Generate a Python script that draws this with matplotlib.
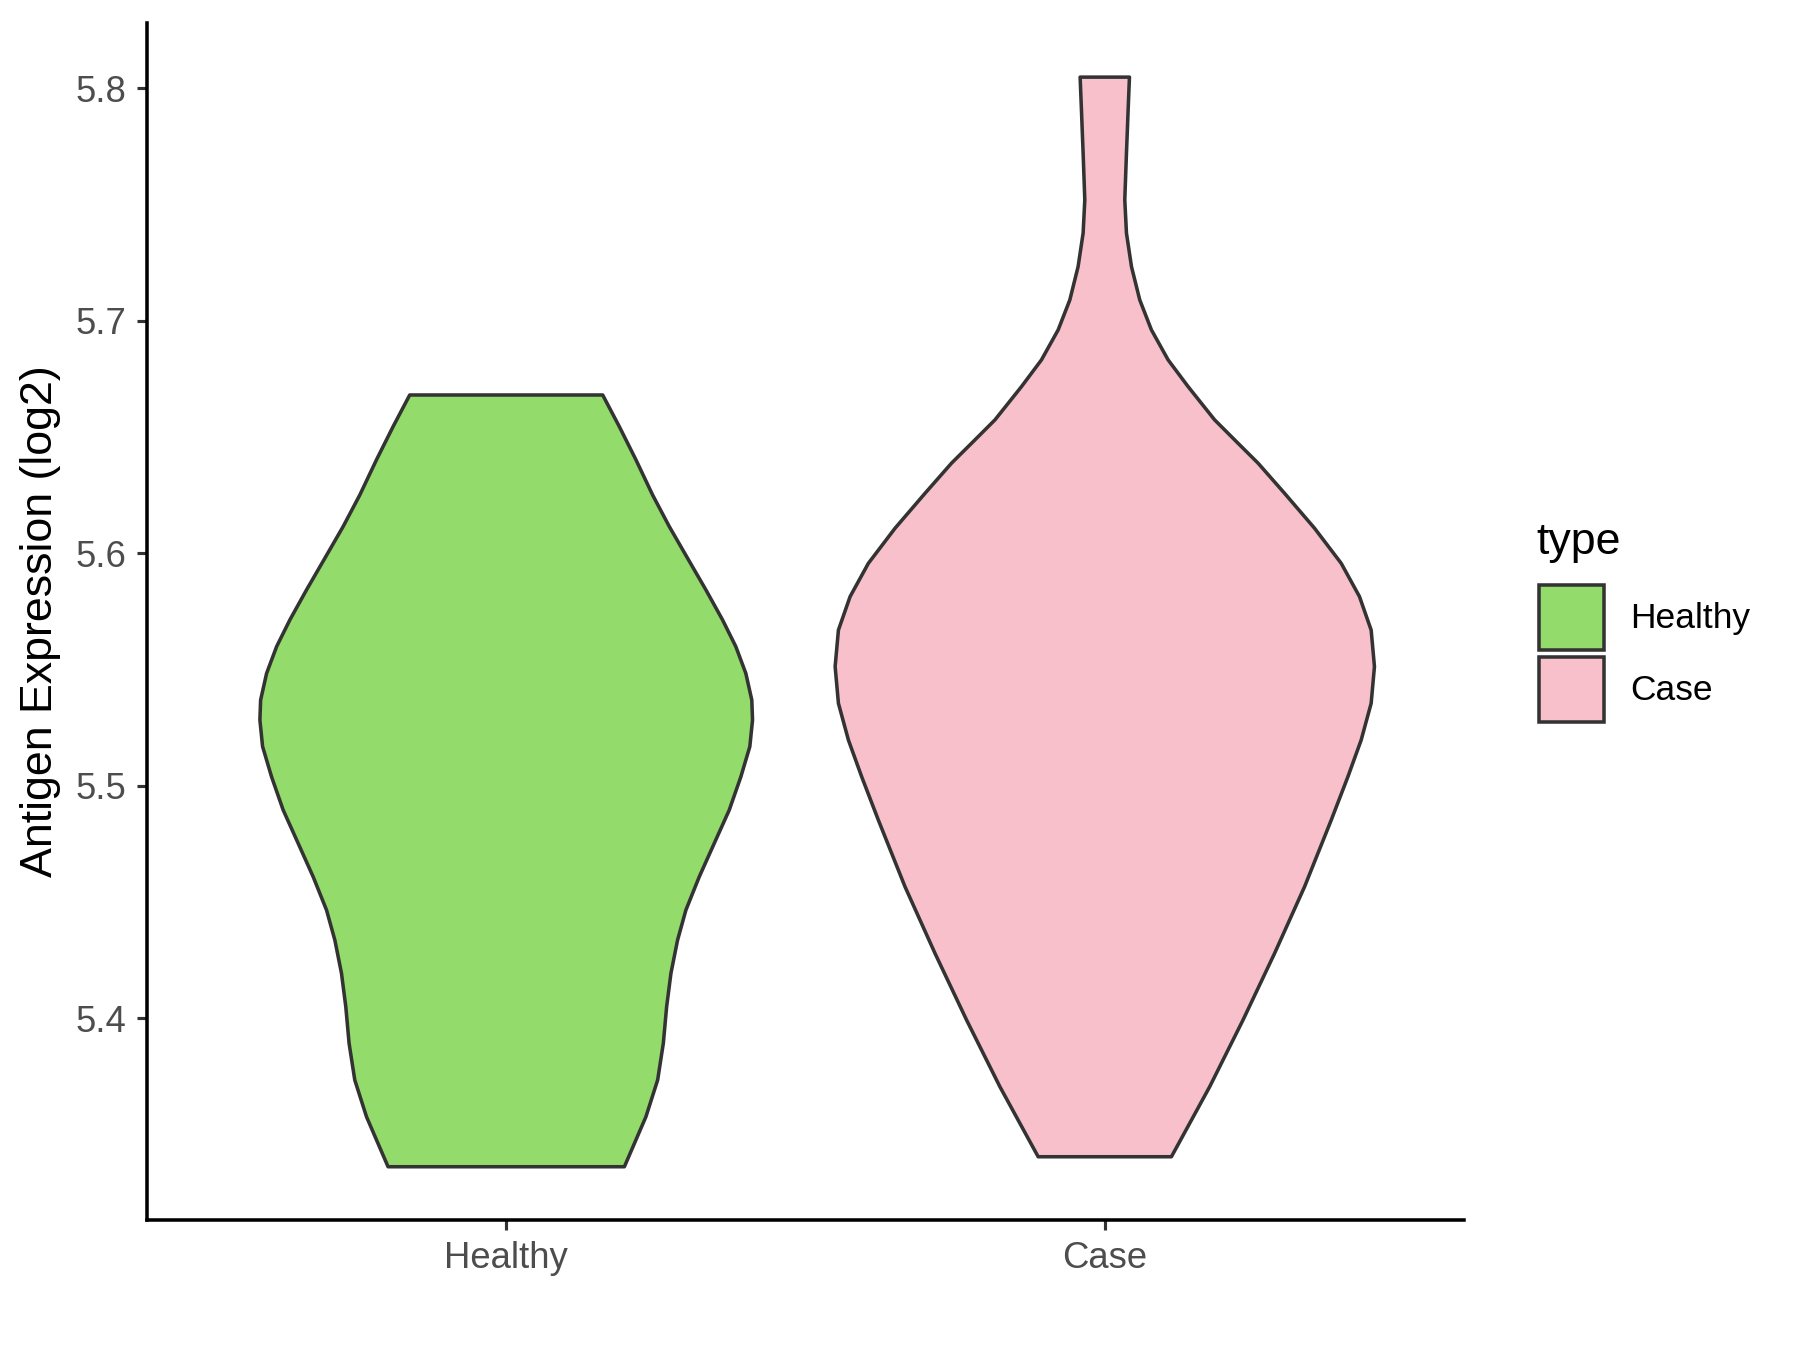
import matplotlib.pyplot as plt
from matplotlib.patches import Rectangle

plt.rcParams['font.family'] = ['Liberation Sans', 'DejaVu Sans']

# categories and colours
groups = ['Healthy', 'Case']
fill_colors = ['#93DB6A', '#F7C0CB']
edge_color = '#333333'

# violin outlines: y level (log2 expression) and half-width (x units)
healthy_y = [5.6681, 5.6545, 5.6402, 5.6251, 5.6115, 5.5979, 5.5843, 5.5714, 5.5599,
             5.5484, 5.5369, 5.5283, 5.5169, 5.5039, 5.4896, 5.4753, 5.4609, 5.4466,
             5.4337, 5.4194, 5.4050, 5.3893, 5.3735, 5.3577, 5.3362]
healthy_hw = [0.1612, 0.1890, 0.2168, 0.2446, 0.2725, 0.3030, 0.3336, 0.3614, 0.3836,
              0.4003, 0.4103, 0.4115, 0.4070, 0.3920, 0.3726, 0.3476, 0.3225, 0.3002,
              0.2863, 0.2752, 0.2680, 0.2625, 0.2530, 0.2334, 0.1974]

case_y = [5.8048, 5.7907, 5.7721, 5.7520, 5.7377, 5.7233, 5.7090, 5.6961, 5.6832,
          5.6717, 5.6574, 5.6488, 5.6388, 5.6258, 5.6108, 5.5957, 5.5814, 5.5670,
          5.5513, 5.5355, 5.5197, 5.5039, 5.4853, 5.4566, 5.4280, 5.3993, 5.3706,
          5.3405]
case_hw = [0.0412, 0.0390, 0.0362, 0.0334, 0.0362, 0.0446, 0.0584, 0.0779, 0.1058,
           0.1392, 0.1835, 0.2169, 0.2560, 0.3004, 0.3504, 0.3950, 0.4255, 0.4450,
           0.4505, 0.4450, 0.4283, 0.4061, 0.3783, 0.3337, 0.2837, 0.2309, 0.1752,
           0.1113]

outlines = [(healthy_y, healthy_hw), (case_y, case_hw)]

fig = plt.figure(figsize=(12, 9), dpi=150)
ax = fig.add_axes([0.0817, 0.0963, 0.8133 - 0.0817, 0.983 - 0.0963])

for i, (ys, hws) in enumerate(outlines):
    c = i + 1
    xs = [c - h for h in hws] + [c + h for h in hws[::-1]]
    yy = list(ys) + list(ys[::-1])
    ax.fill(xs, yy, facecolor=fill_colors[i], edgecolor=edge_color,
            linewidth=1.7, joinstyle='round')

ax.set_xlim(0.4, 2.6)
ax.set_ylim(5.3133, 5.8281)
ax.set_xticks([1, 2])
ax.set_xticklabels(groups)
ax.set_yticks([5.4, 5.5, 5.6, 5.7, 5.8])
ax.set_yticklabels(['5.4', '5.5', '5.6', '5.7', '5.8'])
ax.tick_params(axis='both', labelsize=17.5, labelcolor='#4D4D4D', color='#333333',
               length=5, width=1.5, pad=5)
for side in ['top', 'right']:
    ax.spines[side].set_visible(False)
for side in ['left', 'bottom']:
    ax.spines[side].set_linewidth(1.7)
    ax.spines[side].set_color('black')
ax.set_ylabel('Antigen Expression (log2)', fontsize=21.5, labelpad=7)

# legend drawn by hand in figure coordinates
W, H = 1800.0, 1350.0
fig.text(1536 / W, 1 - 542 / H, 'type', fontsize=21.5, va='center', ha='left')
key_tops = [585, 657]
for i, g in enumerate(groups):
    top = key_tops[i]
    fig.add_artist(Rectangle((1539 / W, 1 - (top + 65) / H), 65 / W, 65 / H,
                             transform=fig.transFigure, facecolor=fill_colors[i],
                             edgecolor=edge_color, linewidth=1.7))
    fig.text(1630 / W, 1 - (top + 33) / H, g, fontsize=17, va='center', ha='left')

fig.savefig('out.png', dpi=150)
